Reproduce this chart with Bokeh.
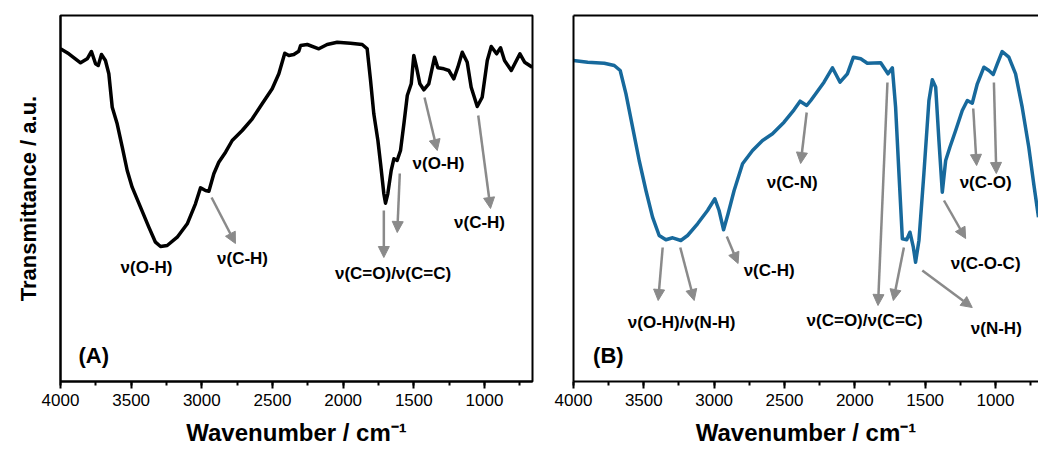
from bokeh.plotting import figure
from bokeh.models import Range1d, SingleIntervalTicker, FixedTicker, LinearAxis, Arrow, NormalHead, ColumnDataSource
from bokeh.layouts import row
from bokeh.core.properties import value
from bokeh.embed import file_html
from bokeh.resources import INLINE

FONT = "Liberation Sans"

# Panel A spectrum (wavenumber, transmittance a.u.)
a_wn = [4000, 3941, 3858, 3811, 3781, 3752, 3733, 3710, 3682, 3658, 3634, 3599, 3563, 3528, 3493,
        3434, 3375, 3328, 3292, 3245, 3174, 3103, 3045, 3009, 2974, 2950, 2915, 2880, 2832, 2785,
        2714, 2643, 2573, 2502, 2455, 2413, 2384, 2349, 2314, 2301, 2254, 2172, 2113, 2042, 1948,
        1865, 1830, 1806, 1783, 1754, 1735, 1712, 1700, 1684, 1660, 1641, 1618, 1594, 1570, 1546,
        1518, 1500, 1481, 1457, 1429, 1394, 1353, 1330, 1287, 1252, 1217, 1188, 1157, 1122, 1094,
        1051, 1016, 980, 952, 914, 886, 858, 810, 749, 716, 662]
a_t = [332.7, 327.7, 318.7, 322.7, 330, 317.7, 316, 327, 321, 307.7, 274.3, 257.7, 234.3, 211, 194.3,
       174.3, 154.3, 139.3, 135, 136, 144.3, 157.7, 177.7, 193.7, 191, 190.3, 207.7, 219.3, 229.3, 241,
       251, 262.7, 277.7, 292.7, 307.7, 328.3, 326, 327, 330.3, 336, 337, 332.7, 337, 339.3, 338.3,
       337, 332.7, 301, 267.7, 241, 217.7, 187.7, 178.3, 187.7, 211, 222.7, 221, 231, 257.7, 286,
       297.7, 326, 314.3, 297.7, 291.7, 297.7, 324.3, 313.7, 312.7, 311, 302.7, 314.3, 329.3, 319.3, 294.3,
       275, 284.3, 321, 335, 327.7, 333.7, 321, 311, 327.7, 319.3, 314.3]

# Panel B spectrum
b_wn = [4000, 3899, 3781, 3710, 3668, 3627, 3580, 3533, 3485, 3438, 3391, 3343, 3295, 3237, 3189,
        3118, 3047, 2995, 2965, 2933, 2901, 2858, 2798, 2727, 2656, 2585, 2503, 2432, 2389, 2342,
        2313, 2278, 2219, 2159, 2105, 2053, 2010, 1958, 1911, 1816, 1764, 1733, 1710, 1686, 1662,
        1631, 1608, 1584, 1568, 1544, 1509, 1473, 1449, 1425, 1402, 1378, 1354, 1324, 1283, 1236,
        1200, 1165, 1129, 1082, 1047, 1016, 987, 952, 905, 857, 810, 763, 728, 694]
b_t = [321, 319.3, 318.3, 316, 311, 287.7, 254.3, 221, 191, 164.3, 146, 141.7, 143.7, 141, 146,
       157.7, 171, 182.7, 171, 151.7, 167.7, 191, 217.7, 231, 241, 247.7, 259.3, 271.7, 280.3, 276,
       281, 287.7, 299.3, 313.7, 299.3, 307.7, 324.3, 322.7, 318.3, 318.7, 307.7, 313.7, 274.3, 207.7, 142.7,
       141.7, 149.3, 134.3, 119.3, 141, 207.7, 281, 301.7, 294.3, 241, 189.3, 221, 234.3, 251, 271,
       281, 278.3, 297.7, 314.3, 311, 307, 317.7, 330, 324.3, 307.7, 274.3, 234.3, 197.7, 164.3]

# Annotations panel A
a_lab_text = ["ν(O-H)", "ν(C-H)", "ν(O-H)", "ν(C=O)/ν(C=C)", "ν(C-H)"]
a_lab_x = [3391, 2712, 1325, 1647, 1035]
a_lab_y = [114, 123, 218, 108, 159]
a_arr_x0 = [2931, 1424, 1712, 1599, 1044]
a_arr_y0 = [184, 284, 171, 208, 266]
a_arr_x1 = [2762, 1334, 1712, 1617, 957]
a_arr_y1 = [138, 231, 124, 149, 173]

# Annotations panel B
b_lab_text = ["ν(O-H)/ν(N-H)", "ν(C-H)", "ν(C-N)", "ν(C=O)/ν(C=C)", "ν(N-H)", "ν(C-O-C)", "ν(C-O)"]
b_lab_x = [3231, 2609, 2445, 1930, 994, 1070, 1070]
b_lab_y = [59, 111, 199, 61, 53, 118, 199]
b_arr_x0 = [3366, 3241, 2910, 2342, 1768, 1651, 1520, 1366, 1158, 1011]
b_arr_y0 = [134, 134, 145, 269, 299, 134, 111, 181, 273, 299]
b_arr_x1 = [3398, 3142, 2830, 2385, 1835, 1726, 1165, 1212, 1134, 994]
b_arr_y1 = [81, 81, 118, 218, 76, 81, 74, 143, 216, 208]

GRAY = "#8a8a8a"


def make_panel(width, bl, br, x_end, wn, t, color, lab_text, lab_x, lab_y,
               ax0, ay0, ax1, ay1, letter, letter_x, ylabel, outline):
    p = figure(width=width, height=449, x_range=Range1d(4000, x_end), y_range=Range1d(0, 366),
               output_backend="svg", toolbar_location=None,
               min_border_left=bl, min_border_right=br, min_border_top=15, min_border_bottom=68)
    p.background_fill_color = "white"
    p.border_fill_color = "white"
    p.grid.visible = False

    xa = p.below[0]
    xa.ticker = SingleIntervalTicker(interval=500, num_minor_ticks=2)
    xa.axis_line_width = 2
    xa.axis_line_color = "black"
    xa.major_tick_line_width = 2
    xa.minor_tick_line_width = 2
    xa.major_tick_line_color = "black"
    xa.minor_tick_line_color = "black"
    xa.major_tick_out = 7
    xa.major_tick_in = 0
    xa.minor_tick_out = 4
    xa.minor_tick_in = 0
    xa.major_label_standoff = 5
    xa.major_label_text_font = FONT
    xa.major_label_text_font_size = "17px"
    xa.major_label_text_color = "black"
    xa.axis_label = "Wavenumber / cm⁻¹"
    xa.axis_label_text_font = FONT
    xa.axis_label_text_font_style = "bold"
    xa.axis_label_text_font_size = "24px"
    xa.axis_label_text_color = "black"
    xa.axis_label_standoff = 10

    ya = p.left[0]
    ya.ticker = FixedTicker(ticks=[])
    ya.axis_line_width = 2
    ya.axis_line_color = "black"
    ya.major_tick_out = 0
    ya.major_tick_in = 0
    ya.minor_tick_out = 0
    ya.minor_tick_in = 0
    ya.major_label_standoff = 0
    ya.major_label_text_font_size = "0px"
    if ylabel:
        ya.axis_label = ylabel
        ya.axis_label_text_font = FONT
        ya.axis_label_text_font_style = "bold"
        ya.axis_label_text_font_size = "22px"
        ya.axis_label_text_color = "black"
        ya.axis_label_standoff = 20

    if outline:
        p.outline_line_color = "black"
        p.outline_line_width = 2
    else:
        p.outline_line_color = None
        top = LinearAxis(ticker=FixedTicker(ticks=[]), axis_line_width=2, axis_line_color="black",
                         major_tick_out=0, major_tick_in=0, minor_tick_out=0, minor_tick_in=0,
                         major_label_standoff=0, major_label_text_font_size="0px")
        p.add_layout(top, "above")

    p.line(wn, t, line_color=color, line_width=3.5, line_join="round")

    src = ColumnDataSource(dict(x0=ax0, y0=ay0, x1=ax1, y1=ay1))
    p.add_layout(Arrow(end=NormalHead(size=11, fill_color=GRAY, line_color=GRAY),
                       x_start="x0", y_start="y0", x_end="x1", y_end="y1",
                       line_color=GRAY, line_width=2.5, source=src))

    p.text(lab_x, lab_y, text=lab_text, text_align="center", text_baseline="middle",
           text_font=value(FONT), text_font_style="bold", text_font_size="17px", text_color="black")
    p.text([letter_x], [26], text=[letter], text_align="left", text_baseline="middle",
           text_font=value(FONT), text_font_style="bold", text_font_size="22px", text_color="black")
    return p


pa = make_panel(552, 60, 20, 660, a_wn, a_t, "black", a_lab_text, a_lab_x, a_lab_y,
                a_arr_x0, a_arr_y0, a_arr_x1, a_arr_y1, "(A)", 3873, "Transmittance / a.u.", True)
pb = make_panel(486, 21, 0, 694, b_wn, b_t, "#17699c", b_lab_text, b_lab_x, b_lab_y,
                b_arr_x0, b_arr_y0, b_arr_x1, b_arr_y1, "(B)", 3861, None, False)

layout = row(pa, pb)
open("out.html", "w").write(file_html(layout, INLINE))
